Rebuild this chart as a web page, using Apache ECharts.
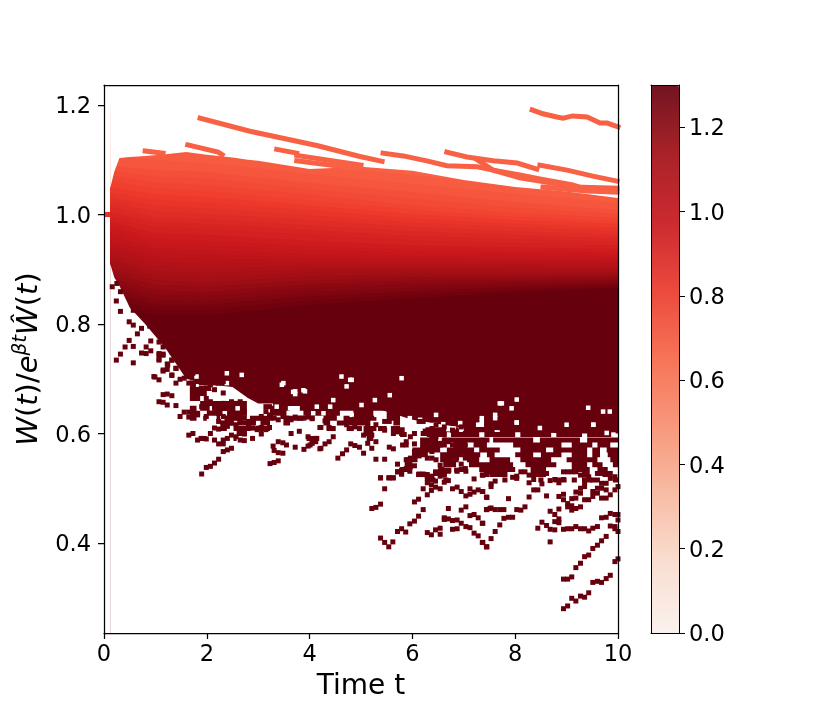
<!DOCTYPE html>
<html>
<head>
<meta charset="utf-8">
<title>W(t) ratio</title>
<style>
    html, body { margin: 0; padding: 0; background: #fff; }
    #chart { width: 830px; height: 712px; }
</style>
<script src="https://cdn.jsdelivr.net/npm/echarts@6/dist/echarts.min.js"></script>
</head>
<body>
<div id="chart"></div>
<script>
var timeTicks = [0, 2, 4, 6, 8, 10];
var ratioTicks = [0.4, 0.6, 0.8, 1.0, 1.2];
var colorTicks = [0, 0.2, 0.4, 0.6, 0.8, 1.0, 1.2];
var redsColors = ['#fff5f0', '#fee0d2', '#fcbba1', '#fc9272', '#fb6a4a', '#ef3b2c', '#cb181d', '#a50f15', '#67000d'];

// upper and lower edge of the solid cloud
var edgeTimes = [0.12, 0.2, 0.3, 0.5, 0.8, 1.2, 1.6, 2, 2.5, 2.8, 3, 4, 5, 6, 7, 8, 9, 10];
var edgeTop = [1.048, 1.078, 1.103, 1.105, 1.107, 1.110, 1.114, 1.109, 1.104, 1.100, 1.098, 1.083, 1.087, 1.080, 1.063, 1.050, 1.042, 1.030];
var edgeBottom = [0.91, 0.885, 0.87, 0.83, 0.80, 0.755, 0.70, 0.69, 0.685, 0.665, 0.655, 0.655, 0.655, 0.625, 0.610, 0.604, 0.60, 0.60];

// where the colour reaches each level, read across the cloud
var levelTimes = [0.125, 1, 2, 4, 6, 8, 10];
var levelValues = [0.70, 0.72, 0.74, 0.76, 0.78, 0.80, 0.82, 0.84, 0.86, 0.88, 0.90, 0.92, 0.94, 0.96, 0.98, 1.00,
    1.02, 1.04, 1.06, 1.08, 1.10, 1.12, 1.14, 1.16, 1.18, 1.20, 1.22, 1.24, 1.26, 1.28, 1.30];
var levelRatios = [
    [1.127, 1.118, 1.109, 1.090, 1.072, 1.054, 1.036],
    [1.108, 1.100, 1.094, 1.074, 1.056, 1.038, 1.022],
    [1.090, 1.081, 1.078, 1.058, 1.041, 1.023, 1.008],
    [1.081, 1.070, 1.066, 1.047, 1.029, 1.013, 1.001],
    [1.072, 1.059, 1.054, 1.036, 1.017, 1.003, 0.994],
    [1.061, 1.048, 1.043, 1.026, 1.009, 0.996, 0.988],
    [1.050, 1.037, 1.032, 1.017, 1.001, 0.990, 0.983],
    [1.041, 1.027, 1.022, 1.008, 0.993, 0.983, 0.976],
    [1.032, 1.017, 1.012, 0.999, 0.986, 0.977, 0.970],
    [1.023, 1.006, 1.002, 0.990, 0.978, 0.970, 0.963],
    [1.014, 0.995, 0.992, 0.981, 0.970, 0.963, 0.957],
    [1.004, 0.986, 0.983, 0.972, 0.961, 0.955, 0.950],
    [0.995, 0.977, 0.974, 0.963, 0.953, 0.948, 0.944],
    [0.987, 0.966, 0.963, 0.952, 0.944, 0.940, 0.937],
    [0.979, 0.955, 0.952, 0.942, 0.935, 0.933, 0.930],
    [0.970, 0.947, 0.943, 0.935, 0.929, 0.927, 0.925],
    [0.961, 0.939, 0.935, 0.928, 0.924, 0.922, 0.921],
    [0.952, 0.930, 0.927, 0.922, 0.918, 0.917, 0.916],
    [0.944, 0.922, 0.919, 0.917, 0.913, 0.913, 0.911],
    [0.936, 0.914, 0.910, 0.911, 0.909, 0.909, 0.906],
    [0.928, 0.906, 0.902, 0.906, 0.906, 0.906, 0.902],
    [0.919, 0.897, 0.893, 0.900, 0.901, 0.900, 0.899],
    [0.911, 0.889, 0.884, 0.895, 0.897, 0.895, 0.895],
    [0.902, 0.880, 0.876, 0.887, 0.891, 0.890, 0.891],
    [0.893, 0.871, 0.868, 0.880, 0.886, 0.886, 0.888],
    [0.884, 0.862, 0.859, 0.873, 0.879, 0.881, 0.884],
    [0.875, 0.853, 0.851, 0.866, 0.873, 0.877, 0.880],
    [0.866, 0.844, 0.843, 0.858, 0.866, 0.872, 0.876],
    [0.857, 0.835, 0.835, 0.851, 0.860, 0.868, 0.873],
    [0.846, 0.826, 0.826, 0.843, 0.853, 0.863, 0.869],
    [0.835, 0.816, 0.816, 0.835, 0.847, 0.858, 0.866]
];

// single paths above the cloud
var upperPaths = [
    [[1.87, 1.176], [2.84, 1.152], [4.14, 1.126], [4.98, 1.106], [5.41, 1.097]],
    [[8.33, 1.191], [8.54, 1.184], [8.81, 1.178], [8.93, 1.176], [9.12, 1.180], [9.40, 1.178], [9.65, 1.167], [9.79, 1.167], [10, 1.160]],
    [[1.63, 1.127], [2.22, 1.114], [2.30, 1.109]],
    [[0.80, 1.116], [1.15, 1.112]],
    [[3.36, 1.119], [3.75, 1.112]],
    [[3.75, 1.108], [5.0, 1.090]],
    [[3.75, 1.098], [5.0, 1.083]],
    [[5.43, 1.112], [5.82, 1.107], [6.28, 1.098], [6.67, 1.089], [7.26, 1.087], [7.57, 1.081], [8.09, 1.072], [8.48, 1.065], [9.12, 1.054], [9.40, 1.045]],
    [[6.67, 1.114], [7.06, 1.105], [7.57, 1.098], [8.04, 1.094], [8.42, 1.083]],
    [[8.48, 1.090], [9.01, 1.081], [9.51, 1.070], [9.98, 1.061]],
    [[7.26, 1.100], [7.57, 1.081], [8.09, 1.067], [8.68, 1.058], [9.12, 1.050], [9.98, 1.048]],
    [[8.54, 1.050], [9.40, 1.043], [9.98, 1.041]]
];
var startPoints = [[0.07, 1.0]];

// dark stretches below the solid cloud: time from, time to, ratio
var darkRuns = [
    [1.67, 1.87, 0.664], [1.67, 2.0, 0.673], [1.67, 2.1, 0.682], [1.67, 2.2, 0.692],
    [1.87, 2.78, 0.655], [3.29, 5.76, 0.655],
    [1.67, 1.80, 0.646], [1.87, 2.78, 0.646], [3.23, 3.62, 0.646], [3.81, 5.76, 0.646],
    [1.67, 1.87, 0.637], [2.0, 2.78, 0.637], [3.23, 3.55, 0.637], [3.88, 4.59, 0.637], [4.85, 5.24, 0.637], [5.50, 5.76, 0.637],
    [1.67, 1.80, 0.628], [1.93, 2.0, 0.628], [2.19, 2.78, 0.628], [2.84, 3.29, 0.628], [3.49, 3.88, 0.628], [4.27, 4.53, 0.628], [4.66, 5.30, 0.628], [5.50, 5.76, 0.628],
    [2.26, 3.23, 0.619], [3.49, 3.62, 0.619], [4.27, 4.40, 0.619], [4.53, 5.18, 0.619], [5.63, 5.76, 0.619],
    [2.26, 2.39, 0.609], [2.52, 3.23, 0.609], [4.33, 4.46, 0.609], [4.72, 4.85, 0.609], [5.05, 5.30, 0.609], [5.37, 5.50, 0.609], [5.63, 5.76, 0.609],
    [2.58, 2.78, 0.600], [3.03, 3.10, 0.600], [5.05, 5.24, 0.600],
    [1.84, 2.0, 0.591], [2.52, 2.58, 0.591], [3.94, 4.17, 0.591], [5.11, 5.24, 0.591],
    [5.76, 5.85, 0.607], [6.2, 6.9, 0.607], [7.0, 7.6, 0.607], [7.7, 8.4, 0.607], [8.5, 9.0, 0.607], [9.1, 9.6, 0.607], [9.7, 10, 0.607],
    [5.76, 5.89, 0.598], [6.28, 6.67, 0.598], [6.75, 7.3, 0.598], [7.4, 8.0, 0.598], [8.1, 8.7, 0.598], [8.8, 9.3, 0.598], [9.4, 9.9, 0.598],
    [6.15, 6.5, 0.588], [6.6, 7.5, 0.588], [7.57, 8.35, 0.588], [8.48, 9.26, 0.588], [9.4, 10, 0.588],
    [5.76, 5.85, 0.579], [6.15, 6.67, 0.579], [6.8, 7.06, 0.579], [7.19, 7.45, 0.579], [7.96, 8.9, 0.579], [9.1, 9.5, 0.579], [9.6, 9.85, 0.579],
    [6.0, 6.54, 0.570], [6.67, 7.2, 0.570], [7.3, 7.7, 0.570], [8.1, 8.6, 0.570], [8.74, 9.4, 0.570], [9.5, 9.65, 0.570], [9.78, 10, 0.570],
    [6.0, 6.3, 0.561], [6.54, 7.32, 0.561], [7.45, 7.6, 0.561], [8.0, 8.35, 0.561], [8.5, 8.9, 0.561], [9.1, 9.4, 0.561], [9.5, 9.65, 0.561], [9.8, 10, 0.561],
    [5.85, 6.1, 0.552], [6.54, 6.9, 0.552], [7.06, 7.3, 0.552], [7.5, 7.9, 0.552], [8.1, 8.7, 0.552], [9.0, 9.6, 0.552], [9.85, 10, 0.552],
    [5.85, 6.0, 0.543], [6.6, 6.85, 0.543], [7.1, 7.96, 0.543], [8.2, 8.8, 0.543], [9.1, 9.4, 0.543], [9.5, 9.7, 0.543], [9.9, 10, 0.543],
    [5.76, 5.95, 0.534], [6.5, 6.62, 0.534], [6.9, 7.06, 0.534], [7.3, 8.0, 0.534], [8.3, 8.6, 0.534], [9.1, 9.45, 0.534], [9.6, 9.8, 0.534],
    [6.1, 6.3, 0.525], [6.5, 6.65, 0.525], [7.5, 7.85, 0.525], [8.3, 8.6, 0.525], [9.3, 9.45, 0.525], [9.7, 9.85, 0.525],
    [6.3, 6.45, 0.515], [6.6, 6.7, 0.515], [7.75, 7.85, 0.515], [8.45, 8.55, 0.515], [8.75, 9.0, 0.515], [9.1, 9.2, 0.515], [9.3, 9.5, 0.515], [9.9, 10, 0.515]
];

// white holes inside the dark part of the cloud
var cloudGaps = [
    [7.74, 0.655], [7.70, 0.655], [8.03, 0.662], [7.93, 0.646], [7.61, 0.634], [7.61, 0.628], [7.35, 0.628], [7.35, 0.616], [7.35, 0.622], [8.03, 0.620],
    [7.28, 0.616], [6.93, 0.619], [9.42, 0.647], [9.84, 0.640], [9.71, 0.640], [9.52, 0.616],
    [2.45, 0.674], [2.55, 0.670], [2.61, 0.664], [2.45, 0.666], [2.84, 0.652], [2.97, 0.646], [3.36, 0.649], [3.49, 0.692], [3.72, 0.677], [3.91, 0.677],
    [3.72, 0.672], [3.62, 0.646], [4.14, 0.649], [2.68, 0.707], [2.39, 0.710], [1.80, 0.704], [1.80, 0.689], [2.13, 0.683], [2.39, 0.692],
    [5.30, 0.634], [5.40, 0.637], [5.95, 0.628], [6.15, 0.625], [6.46, 0.634], [4.82, 0.634], [4.27, 0.637], [4.07, 0.637], [4.46, 0.661], [4.82, 0.698],
    [5.79, 0.701], [4.40, 0.649], [6.70, 0.608], [6.80, 0.609], [6.60, 0.617],
    [2.10, 0.646], [2.35, 0.637], [2.60, 0.646], [2.30, 0.628], [2.55, 0.619], [2.75, 0.628], [3.00, 0.619], [2.90, 0.609],
    [3.68, 0.676], [3.88, 0.679], [3.46, 0.689], [4.72, 0.686], [4.62, 0.704], [4.79, 0.698], [5.27, 0.661], [5.56, 0.670], [5.01, 0.652],
    [5.95, 0.620], [6.21, 0.613], [6.44, 0.616], [7.32, 0.616], [8.03, 0.620], [8.48, 0.610], [9.00, 0.616], [9.52, 0.616], [9.78, 0.601], [9.91, 0.598]
];

// stray dark points under the cloud
var strayLeft = [
    [0.16, 0.868], [0.25, 0.874], [0.32, 0.859], [0.24, 0.842], [0.32, 0.823], [0.49, 0.804], [0.57, 0.825], [0.57, 0.798], [0.73, 0.792], [0.89, 0.796],
    [0.65, 0.782], [0.49, 0.770], [0.57, 0.759], [0.41, 0.758], [0.32, 0.745], [0.24, 0.734], [0.57, 0.729], [0.73, 0.747], [0.82, 0.746], [0.91, 0.751],
    [0.82, 0.758], [0.91, 0.769], [1.07, 0.767], [1.15, 0.758], [1.07, 0.746], [1.15, 0.743], [1.07, 0.734], [0.99, 0.703], [1.15, 0.714], [1.24, 0.725],
    [1.32, 0.734], [1.32, 0.706], [1.40, 0.719], [1.32, 0.749]
];
var strayEarly = [
    [1.90, 0.526], [1.99, 0.538], [2.07, 0.540], [2.15, 0.546], [2.23, 0.553], [3.23, 0.545], [3.31, 0.547], [3.39, 0.550], [2.32, 0.567], [2.40, 0.570],
    [2.48, 0.573], [1.65, 0.597], [1.73, 0.600], [1.82, 0.588], [1.90, 0.591], [1.99, 0.590], [2.07, 0.600], [2.15, 0.610], [2.23, 0.608], [2.15, 0.588],
    [2.23, 0.581], [2.32, 0.581], [2.32, 0.588], [2.40, 0.591], [2.48, 0.597], [2.57, 0.594], [2.65, 0.588], [2.73, 0.587], [2.73, 0.599], [2.89, 0.591],
    [3.06, 0.599], [1.48, 0.631], [1.56, 0.639], [1.65, 0.639], [1.73, 0.643], [1.65, 0.630], [1.73, 0.634], [1.82, 0.634], [1.99, 0.631], [1.40, 0.651],
    [1.23, 0.652], [1.15, 0.657], [1.07, 0.658], [1.15, 0.671], [1.23, 0.672], [1.32, 0.669], [0.97, 0.704], [1.07, 0.698], [1.40, 0.692], [3.29, 0.577],
    [3.31, 0.569], [3.39, 0.585], [3.48, 0.583], [3.55, 0.579], [3.39, 0.565], [3.48, 0.564], [3.72, 0.575], [3.89, 0.571], [3.97, 0.577], [4.05, 0.585],
    [4.14, 0.591], [3.97, 0.594], [3.64, 0.600], [3.80, 0.604], [4.20, 0.611], [4.20, 0.572], [1.90, 0.649], [1.99, 0.664], [2.07, 0.658], [2.15, 0.646],
    [2.23, 0.652], [2.32, 0.674], [2.32, 0.655], [2.23, 0.637], [2.32, 0.631], [2.23, 0.622], [2.32, 0.611], [2.40, 0.613], [2.48, 0.619], [2.57, 0.616],
    [2.48, 0.640], [2.57, 0.634], [2.65, 0.625], [2.73, 0.640], [2.73, 0.628], [2.81, 0.613], [2.89, 0.610], [2.98, 0.607], [3.06, 0.611], [3.15, 0.607],
    [3.22, 0.611], [2.81, 0.622], [2.89, 0.625], [3.06, 0.631], [3.15, 0.649], [3.15, 0.640], [3.22, 0.634], [3.31, 0.628], [3.39, 0.625], [3.48, 0.631],
    [3.55, 0.628], [3.64, 0.625], [3.72, 0.630], [3.80, 0.628], [3.89, 0.628], [3.97, 0.630], [4.05, 0.628], [3.22, 0.649], [2.65, 0.658], [2.57, 0.655],
    [2.48, 0.658], [2.32, 0.695], [2.23, 0.692], [1.74, 0.672], [1.82, 0.667], [1.90, 0.675], [1.99, 0.683], [1.65, 0.692], [1.56, 0.701], [1.48, 0.699],
    [1.40, 0.719], [1.32, 0.707], [1.15, 0.716], [1.23, 0.717], [1.23, 0.727], [1.32, 0.734], [1.07, 0.744], [1.15, 0.745], [1.07, 0.736], [1.48, 0.730],
    [1.56, 0.722], [1.65, 0.731], [1.73, 0.710], [1.82, 0.695], [1.90, 0.695], [2.07, 0.689], [2.15, 0.680], [1.74, 0.689]
];
var strayMiddle = [
    [4.05, 0.627], [4.30, 0.623], [4.22, 0.611], [4.38, 0.611], [4.46, 0.609], [4.46, 0.594], [4.38, 0.585], [4.30, 0.581], [4.22, 0.573], [4.12, 0.591],
    [4.05, 0.582], [4.01, 0.579], [4.12, 0.585], [4.72, 0.616], [4.81, 0.609], [4.88, 0.612], [4.97, 0.609], [5.05, 0.597], [5.13, 0.612], [5.21, 0.597],
    [5.13, 0.582], [5.21, 0.573], [5.29, 0.585], [5.38, 0.609], [5.46, 0.606], [5.29, 0.616], [5.13, 0.620], [4.97, 0.625], [4.88, 0.626], [4.80, 0.581],
    [4.88, 0.578], [4.97, 0.575], [5.05, 0.564], [4.72, 0.570], [4.64, 0.563], [4.55, 0.555], [5.29, 0.553], [5.46, 0.553], [5.38, 0.519], [5.55, 0.519],
    [5.63, 0.519], [5.55, 0.575], [5.63, 0.572], [5.71, 0.544], [5.71, 0.530], [5.79, 0.533], [5.79, 0.526], [5.88, 0.536], [5.96, 0.539], [6.04, 0.541],
    [5.88, 0.552], [5.96, 0.555], [5.88, 0.585], [5.88, 0.579], [6.04, 0.581], [6.04, 0.567], [6.13, 0.567], [6.21, 0.567], [6.04, 0.559], [6.13, 0.559],
    [6.21, 0.564], [6.29, 0.579], [6.29, 0.555], [6.38, 0.555], [6.38, 0.567], [6.46, 0.579], [6.54, 0.579], [6.46, 0.552], [6.54, 0.542], [6.54, 0.530],
    [6.46, 0.527], [6.38, 0.522], [6.29, 0.522], [6.21, 0.526], [6.13, 0.526], [6.62, 0.533], [6.71, 0.533], [6.62, 0.524], [6.86, 0.533], [6.95, 0.544],
    [7.03, 0.536], [6.62, 0.556], [6.71, 0.556], [6.71, 0.545], [6.78, 0.552], [6.86, 0.556], [7.03, 0.561], [7.03, 0.555], [5.55, 0.622], [5.46, 0.622],
    [5.63, 0.600], [5.71, 0.603], [5.79, 0.600], [5.63, 0.609], [5.96, 0.594], [6.04, 0.600], [6.21, 0.600], [6.29, 0.600], [6.38, 0.591], [6.46, 0.594],
    [6.54, 0.582], [6.62, 0.588], [6.71, 0.585], [6.78, 0.579], [6.86, 0.573], [6.95, 0.582], [7.03, 0.579], [6.21, 0.622], [6.13, 0.622], [6.38, 0.609],
    [6.46, 0.616], [6.62, 0.612], [6.78, 0.606], [6.86, 0.603], [6.95, 0.612], [7.03, 0.600]
];
var strayLowMiddle = [
    [5.38, 0.519], [5.46, 0.499], [5.54, 0.519], [5.62, 0.519], [5.71, 0.530], [5.79, 0.526], [5.95, 0.531], [6.12, 0.525], [6.21, 0.525], [6.29, 0.525],
    [6.29, 0.518], [6.37, 0.517], [6.45, 0.513], [6.29, 0.510], [6.37, 0.506], [6.21, 0.499], [6.37, 0.496], [6.45, 0.502], [6.54, 0.499], [6.29, 0.488],
    [6.04, 0.475], [6.12, 0.480], [5.21, 0.463], [5.29, 0.465], [5.38, 0.471], [6.21, 0.461], [6.12, 0.449], [6.04, 0.440], [5.95, 0.435], [5.87, 0.420],
    [5.79, 0.426], [5.71, 0.421], [5.38, 0.409], [5.46, 0.401], [5.54, 0.393], [5.62, 0.402], [6.29, 0.419], [6.37, 0.415], [6.45, 0.424], [6.54, 0.427],
    [6.54, 0.416], [6.70, 0.463], [6.62, 0.446], [6.62, 0.443], [6.70, 0.444], [6.78, 0.441], [6.87, 0.442], [6.95, 0.436], [7.04, 0.430], [7.12, 0.428],
    [6.78, 0.425], [6.87, 0.426], [7.12, 0.450], [7.20, 0.452], [7.28, 0.446], [7.37, 0.436], [7.20, 0.418], [7.28, 0.413], [7.37, 0.401], [7.45, 0.393],
    [6.95, 0.460], [7.04, 0.466], [7.45, 0.461], [7.51, 0.463], [6.62, 0.511], [6.70, 0.514], [6.78, 0.499], [6.87, 0.502], [6.95, 0.494], [7.04, 0.486],
    [7.12, 0.489], [7.12, 0.499], [7.20, 0.493], [7.28, 0.497], [7.37, 0.494], [7.45, 0.483], [7.20, 0.517], [7.37, 0.524], [7.45, 0.525], [6.54, 0.522],
    [6.62, 0.526], [6.70, 0.531], [6.45, 0.530], [6.87, 0.531], [7.04, 0.531]
];
var strayLate = [
    [8.94, 0.280], [9.02, 0.285], [9.10, 0.299], [9.18, 0.294], [9.27, 0.303], [9.35, 0.301], [9.43, 0.309], [8.94, 0.334], [9.02, 0.334], [9.10, 0.338],
    [9.18, 0.355], [9.27, 0.363], [9.35, 0.375], [9.43, 0.378], [9.51, 0.390], [9.60, 0.396], [9.68, 0.404], [9.77, 0.412], [9.51, 0.328], [9.60, 0.330],
    [9.68, 0.328], [9.77, 0.335], [9.85, 0.341], [9.94, 0.366], [10, 0.371], [8.68, 0.402], [8.94, 0.425], [9.02, 0.426], [9.10, 0.426], [9.18, 0.430],
    [9.27, 0.426], [9.35, 0.426], [9.43, 0.422], [9.51, 0.427], [9.60, 0.430], [8.44, 0.427], [8.52, 0.438], [8.61, 0.432], [8.68, 0.425], [8.77, 0.424],
    [8.77, 0.439], [8.85, 0.444], [8.85, 0.437], [8.77, 0.452], [8.68, 0.458], [8.85, 0.462], [9.85, 0.431], [9.94, 0.430], [9.94, 0.426], [10, 0.421],
    [9.68, 0.446], [9.77, 0.447], [9.85, 0.454], [9.94, 0.452], [10, 0.452], [10, 0.442], [7.44, 0.461], [7.53, 0.464], [7.61, 0.461], [7.70, 0.461],
    [7.78, 0.461], [7.78, 0.445], [7.87, 0.447], [7.95, 0.447], [7.70, 0.433], [7.61, 0.421], [7.53, 0.408], [7.44, 0.393], [7.36, 0.401], [8.03, 0.461],
    [8.11, 0.460], [8.19, 0.466], [7.36, 0.436], [7.87, 0.481], [7.44, 0.484], [7.36, 0.494], [7.53, 0.503], [7.53, 0.508], [7.61, 0.513], [8.27, 0.484],
    [8.36, 0.497], [8.44, 0.497], [8.61, 0.486], [8.52, 0.508], [8.27, 0.510], [8.36, 0.516], [7.36, 0.524], [7.44, 0.528], [7.53, 0.530], [7.61, 0.530],
    [7.70, 0.528], [7.78, 0.525], [7.95, 0.520], [8.03, 0.522], [8.03, 0.518], [8.11, 0.530], [8.19, 0.530], [8.27, 0.524], [8.44, 0.527], [8.52, 0.527],
    [8.61, 0.527], [8.44, 0.531], [8.68, 0.514], [8.77, 0.516], [8.85, 0.510], [8.94, 0.516], [8.85, 0.485], [8.94, 0.489], [8.94, 0.479], [9.02, 0.472],
    [9.02, 0.466], [9.10, 0.460], [9.10, 0.468], [9.18, 0.463], [9.27, 0.466], [9.10, 0.481], [9.18, 0.482], [9.18, 0.493], [9.27, 0.491], [9.27, 0.500],
    [9.35, 0.479], [9.43, 0.479], [9.51, 0.485], [9.60, 0.491], [9.51, 0.494], [9.60, 0.500], [9.68, 0.500], [9.77, 0.497], [9.68, 0.482], [9.77, 0.482],
    [9.85, 0.488], [9.94, 0.497], [10, 0.503], [9.35, 0.509], [9.35, 0.503], [9.43, 0.521], [9.51, 0.515], [9.60, 0.515], [9.68, 0.509], [9.77, 0.509],
    [9.85, 0.518], [9.94, 0.521], [9.60, 0.527], [9.68, 0.527], [9.77, 0.527], [9.85, 0.527], [9.35, 0.524], [9.27, 0.524], [9.18, 0.530], [9.10, 0.530],
    [9.02, 0.530], [8.94, 0.530]
];

var fontName = 'DejaVu Sans';
var colorMax = 1.3;
var cloudBase = 0.68;
var darkColor = '#67000d';

function valueColor(value) { // 取色 same scale as the colour bar
    return echarts.color.lerp(value / colorMax, redsColors);
}

function pairUp(times, ratios) {
    var pairs = [];
    for (var i = 0; i < times.length; i++) {
        pairs.push([times[i], ratios[i]]);
    }
    return pairs;
}

function areaSeries(data, color, origin) {
    return {
        type: 'line',
        xAxisIndex: 0,
        yAxisIndex: 0,
        z: 2,
        data: data,
        showSymbol: false,
        silent: true,
        lineStyle: { width: 0 },
        areaStyle: { color: color, opacity: 1, origin: origin }
    };
}

function pointSeries(data, color, size) {
    return {
        type: 'scatter',
        xAxisIndex: 0,
        yAxisIndex: 0,
        z: 5,
        data: data,
        symbol: 'rect',
        symbolSize: size,
        silent: true,
        itemStyle: { color: color, opacity: 1 }
    };
}

function runsToLine(runs) { // a null between runs breaks the line
    var data = [];
    for (var i = 0; i < runs.length; i++) {
        data.push([runs[i][0], runs[i][2]], [runs[i][1], runs[i][2]], null);
    }
    return data;
}

var series = [];
// cloud is painted as layers, lightest first, each one filling down to the axis
series.push(areaSeries([[levelTimes[0], 1.2], [10, 1.2]], valueColor(cloudBase), 'start'));
for (var i = 0; i < levelValues.length; i++) {
    series.push(areaSeries(pairUp(levelTimes, levelRatios[i]), valueColor(levelValues[i]), 'start'));
}
// white above the top edge and below the bottom edge
series.push(areaSeries(pairUp(edgeTimes, edgeTop), '#fff', 'end'));
series.push(areaSeries(pairUp(edgeTimes, edgeBottom), '#fff', 'start'));

series.push({
    type: 'line',
    xAxisIndex: 0,
    yAxisIndex: 0,
    z: 3,
    data: runsToLine(darkRuns),
    showSymbol: false,
    silent: true,
    connectNulls: false,
    lineStyle: { width: 5, color: darkColor, cap: 'butt' }
});
for (var p = 0; p < upperPaths.length; p++) {
    series.push({
        type: 'line',
        xAxisIndex: 0,
        yAxisIndex: 0,
        z: 3,
        data: upperPaths[p],
        showSymbol: false,
        silent: true,
        lineStyle: { width: 5, color: valueColor(cloudBase), cap: 'square', join: 'miter' }
    });
}
series.push(pointSeries(cloudGaps, '#fff', 4.5));
series.push(pointSeries(strayLeft.concat(strayEarly, strayMiddle, strayLowMiddle, strayLate), darkColor, 5));
series.push(pointSeries(startPoints, valueColor(0.85), 5));

// colour bar only, no mark takes its colour from the visualMap
series.push({ type: 'line', xAxisIndex: 2, yAxisIndex: 3, data: [], silent: true });

// labels sit a little lower than echarts centres them
var sideLabel = {
    rich: { n: { color: '#000', fontFamily: fontName, fontSize: 22.5, padding: [5, 0, 0, 0] } },
    formatter: function (v) { return '{n|' + v.toFixed(1) + '}'; }
};
var frameLine = { color: '#000', width: 1.25 };
var barLine = { color: '#000', width: 1 };

var option = {
    animation: false,
    backgroundColor: '#fff',
    grid: [
        { left: 104, top: 85, width: 514, height: 548, outerBoundsMode: 'none' },
        { left: 651, top: 85, width: 28, height: 548, outerBoundsMode: 'none' }
    ],
    visualMap: {
        type: 'continuous',
        min: 0,
        max: colorMax,
        left: 651,
        top: 85,
        itemWidth: 28,
        itemHeight: 548,
        padding: 0,
        calculable: false,
        seriesIndex: [series.length - 1],
        inRange: { color: redsColors, colorAlpha: 0.9 },
        z: 3
    },
    xAxis: [{
        type: 'value',
        gridIndex: 0,
        min: 0,
        max: 10,
        interval: 2,
        z: 10,
        name: 'Time t',
        nameLocation: 'middle',
        nameGap: 40,
        nameTextStyle: { color: '#000', fontFamily: fontName, fontSize: 28 },
        axisLine: { onZero: false, lineStyle: frameLine },
        axisTick: { length: 6, lineStyle: frameLine },
        axisLabel: {
            margin: 11,
            color: '#000',
            fontFamily: fontName,
            fontSize: 22.5,
            formatter: function (v) { return timeTicks.indexOf(v) < 0 ? '' : String(v); }
        },
        splitLine: { show: false }
    }, {
        type: 'value',
        gridIndex: 0,
        position: 'top',
        min: 0,
        max: 10,
        z: 10,
        axisLine: { onZero: false, lineStyle: frameLine },
        axisTick: { show: false },
        axisLabel: { show: false },
        splitLine: { show: false }
    }, {
        type: 'value',
        gridIndex: 1,
        min: 0,
        max: 1,
        z: 10,
        axisLine: { onZero: false, lineStyle: barLine },
        axisTick: { show: false },
        axisLabel: { show: false },
        splitLine: { show: false }
    }, {
        type: 'value',
        gridIndex: 1,
        position: 'top',
        min: 0,
        max: 1,
        z: 10,
        axisLine: { onZero: false, lineStyle: barLine },
        axisTick: { show: false },
        axisLabel: { show: false },
        splitLine: { show: false }
    }],
    yAxis: [{
        type: 'value',
        gridIndex: 0,
        min: 0.2356,
        max: 1.2365,
        z: 10,
        name: '{w|W}{p|(}{w|t}{p|)/}{w|e}{s|βt}{w|Ŵ}{p|(}{w|t}{p|)}',
        nameLocation: 'middle',
        nameGap: 50,
        nameTextStyle: {
            rich: {
                w: { fontFamily: fontName, fontSize: 29, fontStyle: 'italic', color: '#000', lineHeight: 38 },
                p: { fontFamily: fontName, fontSize: 29, color: '#000', lineHeight: 38 },
                s: { fontFamily: fontName, fontSize: 20, fontStyle: 'italic', color: '#000', verticalAlign: 'top', lineHeight: 20 }
            }
        },
        axisLine: { onZero: false, lineStyle: frameLine },
        axisTick: { length: 6, customValues: ratioTicks, lineStyle: frameLine },
        axisLabel: Object.assign({ margin: 13, customValues: ratioTicks }, sideLabel),
        splitLine: { show: false }
    }, {
        type: 'value',
        gridIndex: 0,
        position: 'right',
        min: 0.2356,
        max: 1.2365,
        z: 10,
        axisLine: { onZero: false, lineStyle: frameLine },
        axisTick: { show: false },
        axisLabel: { show: false },
        splitLine: { show: false }
    }, {
        type: 'value',
        gridIndex: 1,
        position: 'left',
        min: 0,
        max: colorMax,
        z: 10,
        axisLine: { onZero: false, lineStyle: barLine },
        axisTick: { show: false },
        axisLabel: { show: false },
        splitLine: { show: false }
    }, {
        type: 'value',
        gridIndex: 1,
        position: 'right',
        min: 0,
        max: colorMax,
        z: 10,
        axisLine: { onZero: false, lineStyle: barLine },
        axisTick: { length: 6, customValues: colorTicks, lineStyle: barLine },
        axisLabel: Object.assign({ margin: 10, customValues: colorTicks }, sideLabel),
        splitLine: { show: false }
    }],
    series: series
};

echarts.init(document.getElementById('chart'), null, { renderer: 'canvas' }).setOption(option);
</script>
</body>
</html>
